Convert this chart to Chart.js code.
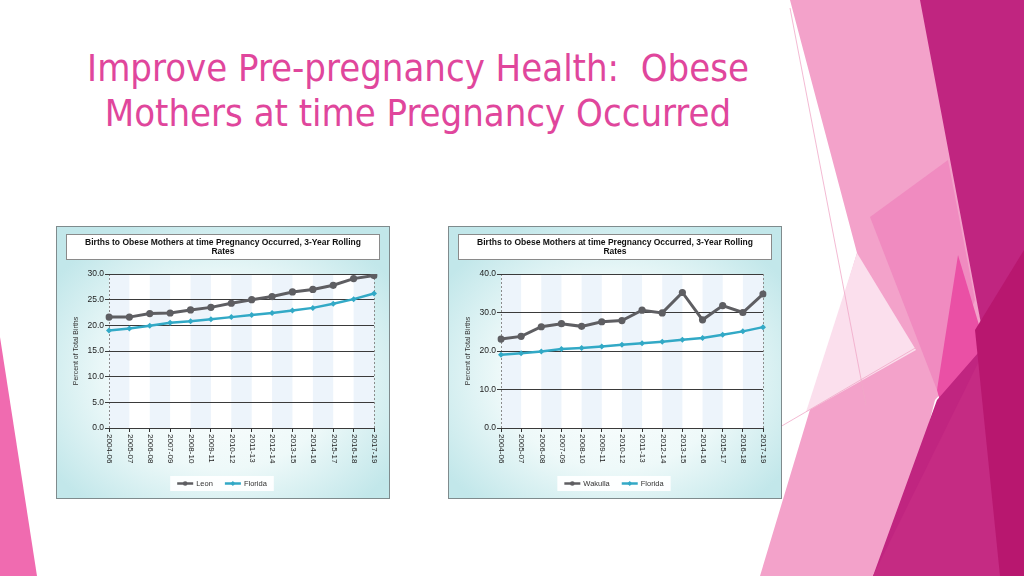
<!DOCTYPE html>
<html><head><meta charset="utf-8">
<script src="https://cdn.jsdelivr.net/npm/chart.js@4.4.0/dist/chart.umd.min.js"></script>
<style>
html,body{margin:0;padding:0;width:1024px;height:576px;overflow:hidden;background:#fff;}
#bg{position:absolute;left:0;top:0;}
#slideTitle{position:absolute;left:0;top:46px;width:836px;text-align:center;color:#e0469c;
 font-family:'Liberation Sans Narrow','DejaVu Sans Condensed',sans-serif;font-size:42px;line-height:45px;white-space:nowrap;}
.cardbg{position:absolute;top:226px;width:334px;height:273px;box-sizing:border-box;border:1px solid #7f8b8d;
 background:radial-gradient(ellipse 62% 62% at 50% 55%, #ffffff 0%, #eef9f9 55%, #c2e7ea 100%);}
canvas{position:absolute;top:226px;}
</style></head>
<body>
<svg id="bg" width="1024" height="576" viewBox="0 0 1024 576">
 <polygon points="0,337 37,576 0,576" fill="#f06bb0"/>
 <polygon points="790,0 925,0 985,345 935,400 890,576 760,576 857,253" fill="#f3a2ca"/>
 <polygon points="857,253 916,350 806,412" fill="#fbdfed"/>
 <polygon points="870,217 948,160 975,300 937,390" fill="#f08bc0"/>
 <polygon points="958,255 985,345 945,420 937,390" fill="#ea50a5"/>
 <polygon points="920,0 1024,0 1024,576 873,576 937,400 985,345" fill="#c02580"/>
 <polygon points="1024,270 1024,576 873,576" fill="#c52b83"/>
 <polygon points="975,330 1024,250 1024,576 1000,576" fill="#b8176f"/>
 <line x1="790" y1="8" x2="866" y2="405" stroke="#f0a8c8" stroke-width="0.8"/>
 <line x1="780" y1="427" x2="917" y2="347" stroke="#f0a8c8" stroke-width="0.8"/>
</svg>
<div id="slideTitle"><span id="t1">Improve Pre-pregnancy Health:&nbsp; Obese</span><br><span id="t2">Mothers at time Pregnancy Occurred</span></div>
<div class="cardbg" style="left:56px"></div>
<div class="cardbg" style="left:448px"></div>
<canvas id="c1" width="334" height="273" style="left:56px"></canvas>
<canvas id="c2" width="334" height="273" style="left:448px"></canvas>
<script>
// ---- data ----
const periods = ['2004-06','2005-07','2006-08','2007-09','2008-10','2009-11','2010-12','2011-13','2012-14','2013-15','2014-16','2015-17','2016-18','2017-19'];
const leon    = [21.6,21.6,22.3,22.4,23.0,23.5,24.3,25.0,25.6,26.5,27.0,27.8,29.1,29.7];
const wakulla = [23.1,23.8,26.3,27.1,26.4,27.6,27.9,30.6,29.9,35.2,28.1,31.8,30.0,34.8];
const florida = [19.0,19.4,19.9,20.5,20.8,21.2,21.6,22.0,22.4,22.9,23.4,24.2,25.1,26.2];
const leftAxis  = {max:30, step:5};
const rightAxis = {max:40, step:10};
const chartTitleLines = ['Births to Obese Mothers at time Pregnancy Occurred, 3-Year Rolling','Rates'];
const yAxisTitle = 'Percent of Total Births';

// fit slide title width
(function(){
  const t1=document.getElementById('t1'); const el=document.getElementById('slideTitle');
  const w=t1.getBoundingClientRect().width; const fs=42*662/w; el.style.fontSize=fs+'px';
})();

const FONT='"Liberation Sans", Arial, sans-serif';
const decor = {
  id:'decor',
  beforeDraw(chart){
    const ctx=chart.ctx, a=chart.chartArea, x=chart.scales.x;
    ctx.save();
    ctx.fillStyle='#ffffff'; ctx.fillRect(a.left,a.top,a.right-a.left,a.bottom-a.top);
    ctx.fillStyle='#edf4fb';
    for(let i=0;i<x.ticks.length-1;i+=2){
      const x0=x.getPixelForTick(i), x1=x.getPixelForTick(i+1);
      ctx.fillRect(x0,a.top,x1-x0,a.bottom-a.top);
    }
    ctx.fillStyle='#ffffff'; ctx.strokeStyle='#8a8a8a'; ctx.lineWidth=1;
    ctx.fillRect(10.5,8.5,313,25); ctx.strokeRect(10.5,8.5,313,25);
    ctx.fillStyle='#111'; ctx.font='bold 8.5px '+FONT; ctx.textAlign='center'; ctx.textBaseline='middle';
    chartTitleLines.forEach((l,i)=>ctx.fillText(l,167,16.5+i*9.5));
    ctx.restore();
  },
  afterDraw(chart){
    const ctx=chart.ctx, a=chart.chartArea, x=chart.scales.x;
    ctx.save();
    // rotated x labels (top-to-bottom)
    ctx.fillStyle='#222'; ctx.font='8px '+FONT; ctx.textAlign='left'; ctx.textBaseline='middle';
    chart.data.labels.forEach((lab,i)=>{
      const px=x.getPixelForTick(i);
      ctx.save(); ctx.translate(px+0.5,a.bottom+6); ctx.rotate(Math.PI/2); ctx.fillText(lab,0,0); ctx.restore();
    });
    // legend
    ctx.font='7.5px '+FONT;
    const ds=chart.data.datasets, lineLen=16, gapT=3, gapI=12, pad=7;
    const widths=ds.map(d=>lineLen+gapT+ctx.measureText(d.label).width);
    const total=widths.reduce((s,w)=>s+w,0)+gapI*(ds.length-1);
    let lx=166-total/2; const ly=257.5;
    ctx.fillStyle='rgba(255,255,255,0.92)'; ctx.fillRect(lx-pad,250,total+pad*2,15);
    ds.forEach((d,i)=>{
      ctx.strokeStyle=d.borderColor; ctx.lineWidth=2.5; ctx.beginPath(); ctx.moveTo(lx,ly); ctx.lineTo(lx+lineLen,ly); ctx.stroke();
      ctx.fillStyle=d.borderColor; const cx=lx+lineLen/2;
      ctx.beginPath();
      if(d.pointStyle==='rectRot'){ctx.moveTo(cx,ly-2.5);ctx.lineTo(cx+2.5,ly);ctx.lineTo(cx,ly+2.5);ctx.lineTo(cx-2.5,ly);ctx.closePath();}
      else ctx.arc(cx,ly,2.3,0,Math.PI*2);
      ctx.fill();
      ctx.fillStyle='#333'; ctx.textAlign='left'; ctx.fillText(d.label,lx+lineLen+gapT,ly+0.5);
      lx+=widths[i]+gapI;
    });
    ctx.restore();
  }
};

function makeChart(id, localName, localData, axis, rightPad){
  const n=periods.length;
  return new Chart(document.getElementById(id),{
    type:'line',
    data:{labels:periods,datasets:[
      {label:localName,data:localData,borderColor:'#5e5e62',backgroundColor:'#5e5e62',borderWidth:3,
       pointRadius:3.6,pointHoverRadius:3.6,pointBackgroundColor:'#5e5e62',pointBorderWidth:0,tension:0,order:2},
      {label:'Florida',data:florida,borderColor:'#32a9c6',backgroundColor:'#32a9c6',borderWidth:2.5,
       pointStyle:'rectRot',pointRadius:3,pointHoverRadius:3,pointBackgroundColor:'#32a9c6',pointBorderWidth:0,tension:0,order:1}
    ]},
    options:{
      responsive:false,animation:false,devicePixelRatio:1,
      layout:{padding:{top:48,left:12,right:rightPad,bottom:30}},
      plugins:{legend:{display:false},title:{display:false},tooltip:{enabled:false}},
      scales:{
        x:{offset:false,
          grid:{color:c=>(c.index===0||c.index===n-1)?'#8c8c8c':'rgba(0,0,0,0)',lineWidth:1,
                tickLength:4,tickColor:'#333',tickBorderDash:[],drawTicks:true},
          border:{display:false,dash:[2,2]},
          ticks:{color:'rgba(0,0,0,0)',font:{size:8,family:FONT},minRotation:90,maxRotation:90,autoSkip:false},
          afterFit(s){s.height=41;}
        },
        y:{min:0,max:axis.max,
          ticks:{stepSize:axis.step,color:'#222',padding:1,font:{size:8.5,family:FONT},callback:v=>v.toFixed(1)},
          grid:{color:'#3a3a3a',lineWidth:1,tickLength:4,tickColor:'#3a3a3a'},
          border:{display:false},
          title:{display:true,text:yAxisTitle,color:'#333',font:{size:7,family:FONT},padding:{top:4,bottom:0}},
          afterFit(s){s.width=41;}
        }
      }
    },
    plugins:[decor]
  });
}
makeChart('c1','Leon',leon,leftAxis,16);
makeChart('c2','Wakulla',wakulla,rightAxis,19);
</script>
</body></html>
